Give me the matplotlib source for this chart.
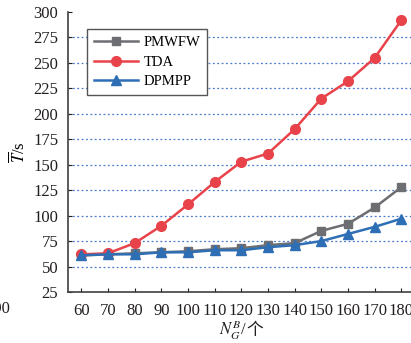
import matplotlib
matplotlib.use("Agg")
import matplotlib.pyplot as plt

plt.rcParams['font.family'] = ['Liberation Serif', 'Noto Sans CJK SC', 'DejaVu Sans']
plt.rcParams['mathtext.fontset'] = 'stix'

# data
node_counts = [60, 70, 80, 90, 100, 110, 120, 130, 140, 150, 160, 170, 180]
pmwfw = [61, 62, 63, 64, 65, 67, 68, 71, 73, 85, 92, 108, 128]
tda = [62, 63, 73, 90, 111, 133, 153, 161, 185, 215, 232, 255, 292]
dpmpp = [61, 62, 62, 64, 64, 66, 66, 69, 71, 75, 82, 89, 97]
y_ticks = [25, 50, 75, 100, 125, 150, 175, 200, 225, 250, 275, 300]
grid_levels = [50, 75, 100, 125, 150, 175, 200, 225, 250, 275]

GRAY = "#6d6e71"
RED = "#e8434a"
BLUE = "#2e6eb5"

fig = plt.figure(figsize=(4.11, 3.43), dpi=100)
ax = fig.add_axes([0.1655, 0.1487, 0.8435, 0.8163])

for level in grid_levels:
    ax.axhline(level, color="#4a7acc", linestyle=(0, (1.5, 2)), linewidth=0.9, zorder=0)

ax.plot(node_counts, pmwfw, color=GRAY, marker="s", markersize=6, linewidth=1.8, label="PMWFW")
ax.plot(node_counts, tda, color=RED, marker="o", markersize=7, linewidth=1.8, label="TDA")
ax.plot(node_counts, dpmpp, color=BLUE, marker="^", markersize=7.5, linewidth=1.8, label="DPMPP")

ax.set_xlim(55, 185)
ax.set_ylim(25, 300)
ax.set_xticks(node_counts)
ax.set_yticks(y_ticks)
ax.tick_params(direction="in", length=3, labelsize=12, colors="#231f20", width=0.8)
ax.tick_params(axis="y", pad=7)
ax.tick_params(axis="x", pad=8)
for side in ("top", "right"):
    ax.spines[side].set_visible(False)
for side in ("left", "bottom"):
    ax.spines[side].set_color("#404040")
    ax.spines[side].set_linewidth(1.2)

# x label: math part and the CJK character as two texts so the CJK font is used
label_y = 0.024
fig.text(0.6, label_y, r"$N_G^B$/", fontsize=12, ha="right", va="baseline", color="#231f20")
fig.text(0.6, label_y, "个", fontsize=12, ha="left", va="baseline", color="#231f20",
         family=["Noto Sans CJK SC", "DejaVu Sans"])
ax.set_ylabel(r"$\overline{T}$/s", fontsize=12, labelpad=3)

leg = ax.legend(loc="upper left", bbox_to_anchor=(0.035, 0.965), fontsize=10.5,
                handlelength=3.0, borderpad=0.45, labelspacing=0.45, fancybox=False,
                framealpha=1, edgecolor="#555555", handletextpad=0.4)
leg.get_frame().set_linewidth(1.0)

# partial label from neighbouring panel, cut off at the left edge
fig.text(0.025, 0.1, "190", fontsize=12, ha="right", va="center", color="#231f20")

fig.savefig("out.png", dpi=100)
